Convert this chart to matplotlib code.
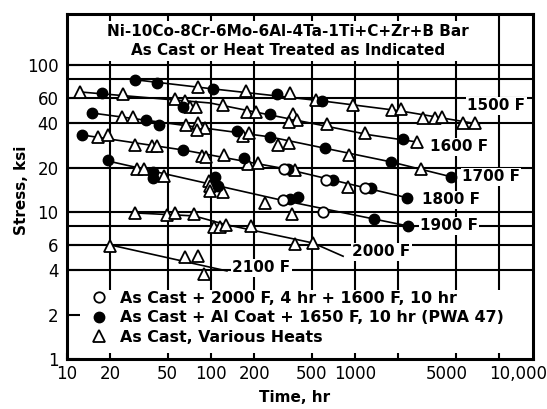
import matplotlib
matplotlib.use("Agg")
import matplotlib.pyplot as plt
from matplotlib.lines import Line2D
from matplotlib.ticker import NullLocator
from matplotlib.transforms import ScaledTranslation

plt.rcParams['font.family'] = ['DejaVu Sans']

# ---- rupture data: time (hr) and stress (ksi) ----
# "As Cast + Al Coat + 1650 F, 10 hr (PWA 47)"  -> filled circles
# "As Cast + 2000 F, 4 hr + 1600 F, 10 hr"      -> open circles
# "As Cast, Various Heats"                        -> open triangles

t_1500_coat = [29.7, 42.2, 103, 287, 590]
s_1500_coat = [79.1, 75.4, 68.7, 63.5, 56.9]
t_1500_cast = [81.3, 175, 354, 536, 969, 1807, 2086, 2965, 3594, 4020, 5623, 6810]
s_1500_cast = [70.9, 66.6, 64.5, 57.8, 53.4, 49.4, 50.2, 43.6, 43.6, 44.3, 40.3, 40.3]
t_1500_curve = [27.5, 103, 590, 2054, 7300]
s_1500_curve = [80.0, 68.7, 56.9, 48.7, 39.5]

t_1600_coat = [17.5, 63.9, 257, 2153]
s_1600_coat = [64.5, 51.8, 46.4, 31.4]
t_1600_cast = [12.3, 24.5, 56.2, 65.9, 71.5, 78.7, 121, 178, 205, 371, 395, 348, 640, 1172, 2696]
s_1600_cast = [65.5, 63.5, 58.7, 56.9, 51.8, 51.8, 53.4, 47.9, 47.9, 46.4, 42.2, 41.0, 39.7, 34.5, 29.9]
t_1600_curve = [12.3, 98.4, 1271, 2696]
s_1600_curve = [65.5, 55.1, 33.4, 29.9]

t_1700_coat = [14.9, 35.4, 43.5, 152, 257, 619, 1778, 4642]
s_1700_coat = [47.1, 42.2, 39.1, 35.6, 32.4, 27.3, 21.9, 17.3]
t_1700_cast = [24.1, 28.7, 67.0, 81.3, 90.8, 80.0, 167, 184, 292, 348, 908, 2871]
s_1700_cast = [44.3, 44.3, 39.1, 40.3, 37.3, 36.1, 32.9, 34.5, 28.6, 29.5, 24.4, 19.6]
t_1700_curve = [14.9, 257, 1778, 4700]
s_1700_curve = [47.1, 32.4, 21.9, 17.3]

t_1800_coat = [12.7, 63.9, 169, 343, 703, 1291, 2296]
s_1800_coat = [33.4, 26.4, 23.3, 19.6, 16.5, 14.6, 12.5]
t_1800_ht = [321, 630, 1172]
s_1800_ht = [19.6, 16.5, 14.6]
t_1800_cast = [16.4, 19.3, 29.7, 38.9, 42.2, 86.6, 92.3, 123, 181, 212, 383, 893]
s_1800_cast = [32.4, 33.4, 28.6, 28.1, 28.1, 24.0, 23.7, 24.4, 21.2, 21.5, 19.3, 14.8]
t_1800_curve = [12.7, 63.9, 332, 2296]
s_1800_curve = [33.4, 26.4, 19.6, 12.5]

t_1900_coat = [19.3, 39.5, 39.5, 107, 112, 354, 402, 1355, 2333]
s_1900_coat = [22.6, 18.7, 17.0, 17.3, 15.0, 12.3, 12.6, 8.96, 8.03]
t_1900_ht = [316, 600]
s_1900_ht = [12.1, 10.0]
t_1900_cast = [30.6, 34.3, 47.2, 96.8, 98.4, 98.4, 121, 237, 365]
s_1900_cast = [19.6, 19.6, 17.6, 16.2, 15.0, 13.9, 13.7, 11.5, 9.7]
t_1900_curve = [19.3, 301, 2333]
s_1900_curve = [22.2, 12.1, 8.03]

t_2000_cast = [29.7, 49.5, 56.2, 76.2, 105, 115, 127, 190, 383, 511]
s_2000_cast = [9.85, 9.5, 9.85, 9.7, 7.9, 7.9, 8.2, 8.0, 6.06, 6.15]
t_2000_curve = [29.7, 76.2, 127, 511, 826]
s_2000_curve = [9.85, 9.4, 8.2, 6.15, 5.0]

t_2100_cast = [19.9, 65.9, 81.3, 89.3]
s_2100_cast = [5.87, 4.94, 5.02, 3.79]
t_2100_curve = [19.9, 129]
s_2100_curve = [5.97, 3.97]

temp_labels = ["1500 F", "1600 F", "1700 F", "1800 F", "1900 F", "2000 F", "2100 F"]
temp_label_t = [6000, 3319, 5530, 2917, 2826, 953, 140]
temp_label_s = [52.6, 27.7, 17.3, 12.1, 8.03, 5.35, 4.16]

x_ticks = [10, 20, 50, 100, 200, 500, 1000, 2000, 5000, 10000]
x_ticklabels = ["10", "20", "50", "100", "200", "500", "1000", "", "5000", "10,000"]
y_ticks = [1, 2, 4, 6, 10, 20, 40, 60, 100]
y_ticklabels = ["1", "2", "4", "6", "10", "20", "40", "60", "100"]
x_grid = [20, 50, 100, 200, 500, 1000, 2000, 5000, 10000]
y_grid = [4, 6, 8, 10, 20, 40, 60, 80, 100]

legend_labels = ["As Cast + 2000 F, 4 hr + 1600 F, 10 hr",
                 "As Cast + Al Coat + 1650 F, 10 hr (PWA 47)",
                 "As Cast, Various Heats"]

title_text = "Ni-10Co-8Cr-6Mo-6Al-4Ta-1Ti+C+Zr+B Bar\nAs Cast or Heat Treated as Indicated"

# ---- figure ----
fig = plt.figure(figsize=(5.47, 4.09), dpi=100)
ax = fig.add_axes([67 / 547, 1 - 359 / 409, 466 / 547, 345 / 409])
ax.set_xscale('log')
ax.set_yscale('log')
xmax, ymax = 17200, 222
ax.set_xlim(10, xmax)
ax.set_ylim(1, ymax)

# grid
ax.vlines(x_grid, 2.95, ymax, color='black', lw=1.5, zorder=1)
ax.hlines(y_grid, 10, xmax, color='black', lw=1.5, zorder=1)

# trend curves
curves = [(t_1500_curve, s_1500_curve), (t_1600_curve, s_1600_curve),
          (t_1700_curve, s_1700_curve), (t_1800_curve, s_1800_curve),
          (t_1900_curve, s_1900_curve), (t_2000_curve, s_2000_curve),
          (t_2100_curve, s_2100_curve)]
for tc, sc in curves:
    ax.plot(tc, sc, color='black', lw=1.2, zorder=2)

tri = dict(ls='none', marker='^', ms=8.5, mfc='white', mec='black', mew=1.3, zorder=3)
dot = dict(ls='none', marker='o', ms=7.5, mfc='black', mec='black', mew=1.0, zorder=3)
ring = dict(ls='none', marker='o', ms=7.5, mfc='white', mec='black', mew=1.3, zorder=3)

for tc, sc in [(t_1500_cast, s_1500_cast), (t_1600_cast, s_1600_cast),
               (t_1700_cast, s_1700_cast), (t_1800_cast, s_1800_cast),
               (t_1900_cast, s_1900_cast), (t_2000_cast, s_2000_cast),
               (t_2100_cast, s_2100_cast)]:
    ax.plot(tc, sc, **tri)
for tc, sc in [(t_1500_coat, s_1500_coat), (t_1600_coat, s_1600_coat),
               (t_1700_coat, s_1700_coat), (t_1800_coat, s_1800_coat),
               (t_1900_coat, s_1900_coat)]:
    ax.plot(tc, sc, **dot)
for tc, sc in [(t_1800_ht, s_1800_ht), (t_1900_ht, s_1900_ht)]:
    ax.plot(tc, sc, **ring)

# temperature labels
for lab, tl, sl in zip(temp_labels, temp_label_t, temp_label_s):
    ax.text(tl, sl, lab, ha='left', va='center', fontsize=11, fontweight='bold',
            bbox=dict(fc='white', ec='none', pad=1.0), zorder=4)

# title block inside the frame
ax.text(0.474, 0.922, title_text, transform=ax.transAxes, ha='center', va='center',
        fontsize=11, fontweight='bold', linespacing=1.35,
        bbox=dict(fc='white', ec='none', pad=2.0), zorder=4)

# legend
handles = [Line2D([], [], **ring), Line2D([], [], **dot), Line2D([], [], **tri)]
leg = ax.legend(handles, legend_labels, loc='upper left',
                bbox_to_anchor=((93 - 67) / 466, (359 - 291) / 345),
                frameon=False, borderpad=0, borderaxespad=0,
                handlelength=0.8, handletextpad=0.9, labelspacing=0.28,
                prop=dict(size=11.4, weight='bold'))
leg.set_zorder(5)

# axes, ticks, labels
for sp in ax.spines.values():
    sp.set_linewidth(2.2)
ax.set_xticks(x_ticks)
ax.set_xticklabels(x_ticklabels)
ax.set_yticks(y_ticks)
ax.set_yticklabels(y_ticklabels)
ax.xaxis.set_minor_locator(NullLocator())
ax.yaxis.set_minor_locator(NullLocator())
ax.tick_params(axis='x', direction='in', length=4, width=1.5, pad=4, labelsize=12)
ax.tick_params(axis='y', direction='in', length=9, width=1.5, pad=6, labelsize=12)

# nudge the two crowded right-hand time labels apart
xlabels = ax.get_xticklabels()
for lbl, dx in [(xlabels[8], -9), (xlabels[9], 19)]:
    lbl.set_transform(lbl.get_transform() + ScaledTranslation(dx / 100, 0, fig.dpi_scale_trans))

ax.set_xlabel("Time, hr", fontsize=11, fontweight='bold', va='center')
ax.xaxis.set_label_coords((295 - 67) / 466, (359 - 397) / 345)
ax.set_ylabel("Stress, ksi", fontsize=11, fontweight='bold', va='center')
ax.yaxis.set_label_coords((22 - 67) / 466, (359 - 190) / 345)

fig.savefig("out.png", dpi=100)
